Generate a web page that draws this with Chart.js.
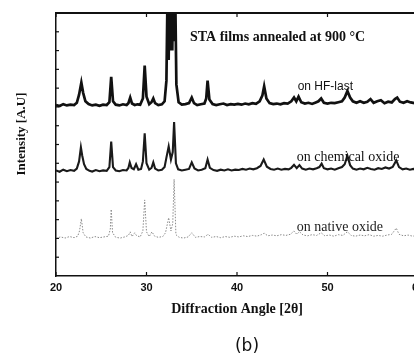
<!DOCTYPE html>
<html>
<head>
<meta charset="utf-8">
<script src="https://cdn.jsdelivr.net/npm/chart.js@4"></script>
<style>
  html, body { margin: 0; padding: 0; background: #fff; overflow: hidden; }
  #wrap { position: absolute; left: 0; top: 0; width: 440px; height: 356px; }
</style>
</head>
<body>
<div id="wrap"><canvas id="xrd"></canvas></div>
<script>
// 2-theta positions and intensities (arbitrary units, stacked)
const hfLastAngle = [20, 20.4, 20.8, 21.2, 21.6, 22.0, 22.3, 22.55, 22.8, 23.0, 23.25, 23.6, 24.0, 24.4, 24.8, 25.2, 25.6, 25.9, 26.1, 26.3, 26.6, 27.0, 27.4, 27.8, 28.0, 28.2, 28.4, 28.7, 29.0, 29.3, 29.6, 29.8, 30.0, 30.3, 30.55, 30.75, 30.95, 31.3, 31.7, 32.0, 32.2, 32.35, 32.45, 32.55, 32.65, 32.75, 32.85, 32.95, 33.05, 33.15, 33.3, 33.55, 33.9, 34.3, 34.7, 35.0, 35.25, 35.6, 36.0, 36.4, 36.6, 36.75, 36.95, 37.3, 37.7, 38.1, 38.5, 38.9, 39.3, 39.7, 40.1, 40.5, 40.9, 41.3, 41.7, 42.1, 42.5, 42.8, 43.0, 43.25, 43.6, 44.0, 44.4, 44.8, 45.2, 45.6, 46.0, 46.3, 46.55, 46.8, 47.1, 47.5, 47.9, 48.3, 48.7, 49.0, 49.3, 49.6, 50.0, 50.4, 50.8, 51.2, 51.6, 51.9, 52.2, 52.5, 52.8, 53.2, 53.6, 54.0, 54.4, 54.75, 55.1, 55.5, 55.9, 56.3, 56.7, 57.1, 57.45, 57.7, 58.0, 58.4, 58.8, 59.2, 59.6, 60.0];
const hfLastIntensity = [9.10, 9.05, 9.15, 9.08, 9.12, 9.10, 9.22, 9.65, 10.30, 9.75, 9.30, 9.15, 9.08, 9.12, 9.06, 9.12, 9.10, 9.25, 10.60, 9.30, 9.12, 9.08, 9.14, 9.10, 9.20, 9.50, 9.18, 9.10, 9.14, 9.12, 9.45, 11.20, 9.55, 9.15, 9.25, 9.45, 9.20, 9.10, 9.14, 9.30, 10.40, 16.0, 11.5, 16.0, 12.0, 16.0, 12.0, 16.0, 12.5, 16.0, 10.2, 9.25, 9.12, 9.15, 9.20, 9.50, 9.20, 9.10, 9.14, 9.18, 9.45, 10.40, 9.40, 9.15, 9.10, 9.14, 9.18, 9.10, 9.15, 9.12, 9.16, 9.12, 9.18, 9.14, 9.20, 9.16, 9.30, 9.60, 10.10, 9.45, 9.20, 9.15, 9.18, 9.14, 9.20, 9.18, 9.30, 9.50, 9.30, 9.55, 9.25, 9.18, 9.22, 9.16, 9.24, 9.30, 9.45, 9.22, 9.18, 9.22, 9.20, 9.25, 9.30, 9.50, 9.85, 9.50, 9.30, 9.22, 9.30, 9.22, 9.28, 9.42, 9.22, 9.30, 9.36, 9.20, 9.28, 9.24, 9.42, 9.50, 9.28, 9.22, 9.30, 9.24, 9.20, 9.22];

const chemOxideAngle = [20, 20.4, 20.8, 21.2, 21.6, 22.0, 22.3, 22.55, 22.75, 22.9, 23.1, 23.35, 23.7, 24.0, 24.4, 24.8, 25.2, 25.6, 25.9, 26.1, 26.3, 26.6, 27.0, 27.4, 27.8, 28.0, 28.15, 28.35, 28.6, 28.85, 29.1, 29.4, 29.6, 29.8, 30.0, 30.3, 30.55, 30.75, 30.95, 31.3, 31.7, 32.0, 32.2, 32.45, 32.7, 32.9, 33.05, 33.25, 33.5, 33.9, 34.3, 34.7, 35.0, 35.3, 35.7, 36.1, 36.5, 36.75, 37.0, 37.4, 37.8, 38.2, 38.6, 39.0, 39.4, 39.8, 40.2, 40.6, 41.0, 41.4, 41.8, 42.2, 42.6, 42.95, 43.3, 43.7, 44.1, 44.5, 44.9, 45.3, 45.7, 46.0, 46.3, 46.6, 46.9, 47.2, 47.6, 48.0, 48.4, 48.8, 49.1, 49.35, 49.6, 50.0, 50.4, 50.8, 51.2, 51.6, 51.9, 52.2, 52.5, 52.8, 53.2, 53.6, 54.0, 54.4, 54.8, 55.2, 55.6, 56.0, 56.4, 56.8, 57.2, 57.6, 57.9, 58.3, 58.7, 59.1, 59.5, 60.0];
const chemOxideIntensity = [5.62, 5.55, 5.66, 5.58, 5.64, 5.60, 5.72, 6.10, 6.85, 6.40, 5.95, 5.70, 5.60, 5.56, 5.64, 5.58, 5.62, 5.60, 5.80, 7.15, 5.80, 5.62, 5.58, 5.64, 5.62, 5.75, 6.05, 5.75, 5.68, 5.95, 5.66, 5.70, 6.10, 7.60, 6.00, 5.66, 5.75, 6.05, 5.72, 5.62, 5.66, 5.80, 6.30, 6.90, 6.20, 6.60, 8.20, 6.00, 5.68, 5.62, 5.66, 5.70, 6.05, 5.72, 5.62, 5.66, 5.74, 6.20, 5.76, 5.64, 5.60, 5.66, 5.62, 5.68, 5.62, 5.66, 5.64, 5.70, 5.66, 5.72, 5.68, 5.74, 5.86, 6.20, 5.82, 5.70, 5.66, 5.72, 5.66, 5.70, 5.68, 5.76, 5.92, 5.74, 5.90, 5.72, 5.66, 5.72, 5.68, 5.74, 5.80, 5.98, 5.74, 5.68, 5.72, 5.66, 5.74, 5.80, 5.95, 6.40, 5.90, 5.72, 5.66, 5.72, 5.68, 5.76, 5.70, 5.66, 5.74, 5.70, 5.78, 5.72, 5.80, 6.15, 5.80, 5.68, 5.72, 5.66, 5.70, 5.66];

const nativeOxideAngle = [20, 20.5, 21.0, 21.5, 22.0, 22.4, 22.6, 22.8, 23.0, 23.3, 23.8, 24.3, 24.8, 25.3, 25.8, 26.0, 26.1, 26.25, 26.6, 27.1, 27.6, 28.0, 28.2, 28.4, 28.7, 28.9, 29.3, 29.6, 29.8, 30.0, 30.3, 30.6, 30.9, 31.3, 31.8, 32.1, 32.45, 32.7, 32.9, 33.05, 33.25, 33.6, 34.1, 34.6, 35.0, 35.4, 35.9, 36.4, 36.8, 37.2, 37.7, 38.2, 38.7, 39.2, 39.7, 40.2, 40.7, 41.2, 41.7, 42.2, 42.7, 43.0, 43.4, 43.9, 44.4, 44.9, 45.4, 45.9, 46.3, 46.6, 46.9, 47.3, 47.8, 48.3, 48.8, 49.3, 49.7, 50.2, 50.7, 51.2, 51.7, 52.2, 52.6, 53.1, 53.6, 54.1, 54.6, 55.1, 55.6, 56.1, 56.6, 57.1, 57.6, 57.9, 58.4, 58.9, 59.4, 60.0];
const nativeOxideIntensity = [2.00, 2.08, 2.02, 2.10, 2.04, 2.12, 2.40, 3.05, 2.30, 2.08, 2.02, 2.10, 2.04, 2.08, 2.12, 2.50, 3.55, 2.30, 2.06, 2.02, 2.08, 2.16, 2.35, 2.10, 2.30, 2.15, 2.08, 2.40, 4.05, 2.35, 2.10, 2.35, 2.12, 2.06, 2.10, 2.30, 3.10, 2.40, 2.80, 5.15, 2.20, 2.06, 2.02, 2.08, 2.30, 2.06, 2.10, 2.08, 2.22, 2.06, 2.10, 2.04, 2.10, 2.06, 2.12, 2.08, 2.14, 2.10, 2.16, 2.12, 2.20, 2.28, 2.14, 2.18, 2.14, 2.20, 2.16, 2.22, 2.40, 2.22, 2.36, 2.18, 2.14, 2.20, 2.16, 2.30, 2.14, 2.18, 2.12, 2.20, 2.16, 2.36, 2.16, 2.12, 2.18, 2.14, 2.20, 2.12, 2.16, 2.12, 2.18, 2.22, 2.55, 2.22, 2.14, 2.18, 2.12, 2.16];

const xTickValues = [20, 30, 40, 50, 60];
const seriesLabels = ['on HF-last', 'on chemical oxide', 'on native oxide'];

const toPoints = (xs, ys) => xs.map((x, i) => ({ x: x, y: ys[i] }));

// inward ticks, top frame line and the in-plot captions
const frame = {
  id: 'frame',
  afterDraw(chart) {
    const { ctx, chartArea: a, scales: { x, y } } = chart;
    ctx.save();
    ctx.strokeStyle = '#111';
    ctx.lineWidth = 2;
    ctx.beginPath();
    ctx.moveTo(a.left, a.top);
    ctx.lineTo(a.right, a.top);
    ctx.stroke();

    ctx.lineWidth = 1.2;
    xTickValues.forEach(v => {
      const px = x.getPixelForValue(v);
      ctx.beginPath();
      ctx.moveTo(px, a.bottom); ctx.lineTo(px, a.bottom - 4);
      ctx.moveTo(px, a.top); ctx.lineTo(px, a.top + 4);
      ctx.stroke();
    });
    for (let v = 1; v < 14; v++) {
      const py = y.getPixelForValue(v);
      ctx.beginPath();
      ctx.moveTo(a.left, py); ctx.lineTo(a.left + 3, py);
      ctx.stroke();
    }

    ctx.textBaseline = 'middle';
    ctx.textAlign = 'left';
    ctx.fillStyle = '#111';
    ctx.font = 'bold 14px "Liberation Serif"';
    ctx.fillText('STA films annealed at 900 °C', x.getPixelForValue(34.8), y.getPixelForValue(12.72));
    ctx.font = '12px "Liberation Sans"';
    ctx.fillText(seriesLabels[0], x.getPixelForValue(46.7), y.getPixelForValue(10.1));
    ctx.font = '14px "Liberation Serif"';
    ctx.fillText(seriesLabels[1], x.getPixelForValue(46.6), y.getPixelForValue(6.33));
    ctx.fillStyle = '#222';
    ctx.fillText(seriesLabels[2], x.getPixelForValue(46.6), y.getPixelForValue(2.6));

    // y axis title, sits a little above the middle of the frame in the scan
    ctx.save();
    ctx.translate(22, 134);
    ctx.rotate(-Math.PI / 2);
    ctx.textAlign = 'center';
    ctx.fillStyle = '#111';
    ctx.font = 'bold 13px "Liberation Serif"';
    ctx.fillText('Intensity [A.U]', 0, 0);
    ctx.restore();

    ctx.fillStyle = '#111';
    ctx.textAlign = 'center';
    ctx.font = '17px "DejaVu Sans"';
    ctx.fillText('(b)', 247, 347);
    ctx.restore();
  }
};

new Chart(document.getElementById('xrd'), {
  type: 'line',
  data: {
    datasets: [
      {
        label: seriesLabels[0],
        data: toPoints(hfLastAngle, hfLastIntensity),
        borderColor: '#111',
        borderWidth: 2.7,
        pointRadius: 0,
        tension: 0
      },
      {
        label: seriesLabels[1],
        data: toPoints(chemOxideAngle, chemOxideIntensity),
        borderColor: '#1a1a1a',
        borderWidth: 2.1,
        pointRadius: 0,
        tension: 0
      },
      {
        label: seriesLabels[2],
        data: toPoints(nativeOxideAngle, nativeOxideIntensity),
        borderColor: '#8a8a8a',
        borderWidth: 1,
        borderDash: [1.5, 1.5],
        pointRadius: 0,
        tension: 0
      }
    ]
  },
  options: {
    responsive: true,
    maintainAspectRatio: false,
    animation: false,
    events: [],
    layout: { padding: { top: 13, right: 22, left: 0, bottom: 0 } },
    plugins: {
      legend: { display: false },
      tooltip: { enabled: false }
    },
    scales: {
      x: {
        type: 'linear',
        min: 20,
        max: 60,
        afterFit: s => { s.height = 80; },
        afterBuildTicks: s => { s.ticks = xTickValues.map(v => ({ value: v })); },
        grid: { display: false, drawTicks: false },
        border: { display: true, color: '#111', width: 1.5 },
        ticks: {
          padding: 5,
          color: '#111',
          maxRotation: 0,
          font: { family: 'Liberation Sans', size: 11, weight: 'bold' }
        },
        title: {
          display: true,
          text: 'Diffraction Angle [2θ]',
          color: '#111',
          padding: { top: 0, bottom: 38 },
          font: { family: 'Liberation Serif', size: 14, weight: 'bold' }
        }
      },
      y: {
        min: 0,
        max: 14,
        afterFit: s => { s.width = 56; },
        grid: { display: false, drawTicks: false },
        border: { display: true, color: '#111', width: 1.5 },
        ticks: { display: false },
        title: { display: false }
      }
    }
  },
  plugins: [frame]
});
</script>
</body>
</html>
